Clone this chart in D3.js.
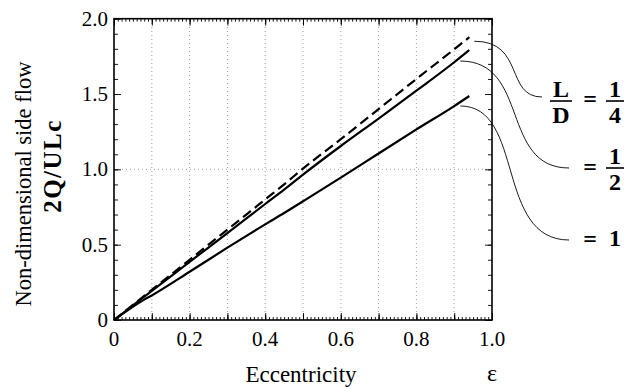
<!DOCTYPE html>
<html>
<head>
<meta charset="utf-8">
<script src="https://cdn.jsdelivr.net/npm/d3@7"></script>
<style>
  html, body { margin: 0; padding: 0; background: #fff; }
  svg { display: block; }
</style>
</head>
<body>
<svg id="chart" width="626" height="387"></svg>
<script>
// Eccentricity samples and side flow for each L/D ratio
const eps = [0, 0.08, 0.1, 0.2, 0.3, 0.4, 0.45, 0.5, 0.6, 0.7, 0.8, 0.9, 0.94];
const flowQuarter = [0, 0.16, 0.20, 0.40, 0.60, 0.80, 0.90, 1.005, 1.20, 1.40, 1.60, 1.797, 1.877];
const flowHalf = [0, 0.155, 0.193, 0.386, 0.577, 0.77, 0.865, 0.965, 1.155, 1.337, 1.522, 1.711, 1.792];
const flowOne = [0, 0.135, 0.163, 0.32, 0.48, 0.635, 0.71, 0.788, 0.945, 1.105, 1.265, 1.42, 1.487];

const xTickLabels = ['0', '0.2', '0.4', '0.6', '0.8', '1.0'];
const yTickLabels = ['0', '0.5', '1.0', '1.5', '2.0'];

const FONT = 'Liberation Serif';

const svg = d3.select('#chart');

const x = d3.scaleLinear().domain([0, 1]).range([114, 492]);
const y = d3.scaleLinear().domain([0, 2]).range([320, 18.7]);

const range = (a, b, s) => d3.range(Math.round(a / s), Math.round(b / s) + 1).map(i => +(i * s).toFixed(4));

// --- Grid (dotted) ---
svg.append('g')
  .selectAll('line')
  .data(range(0.1, 0.9, 0.1))
  .join('line')
  .attr('x1', d => x(d)).attr('x2', d => x(d))
  .attr('y1', y(0)).attr('y2', y(2))
  .attr('stroke', '#888').attr('stroke-width', 0.8)
  .attr('stroke-dasharray', '1,3');

svg.append('line')
  .attr('x1', x(0)).attr('x2', x(1))
  .attr('y1', y(1)).attr('y2', y(1))
  .attr('stroke', '#888').attr('stroke-width', 0.8)
  .attr('stroke-dasharray', '1,3');

// --- Tick marks on all four sides (inside) ---
function tickLayer(axisFn, values, size, transform) {
  const g = svg.append('g')
    .attr('transform', transform)
    .call(axisFn.tickValues(values).tickSize(-size).tickFormat(''));
  g.select('.domain').remove();
  g.selectAll('text').remove();
  g.selectAll('line').attr('stroke', '#000').attr('stroke-width', 0.9);
  return g;
}

const xMinor = range(0, 1, 0.01);
const xMid = range(0.05, 0.95, 0.1);
const xMajor = range(0, 1, 0.1);
[[xMinor, 3], [xMid, 5], [xMajor, 7]].forEach(([v, s]) => {
  tickLayer(d3.axisBottom(x), v, s, `translate(0,${y(0)})`);
  tickLayer(d3.axisTop(x), v, s, `translate(0,${y(2)})`);
});

const yMinor = range(0, 2, 0.1);
const yMajor = range(0, 2, 0.5);
[[yMinor, 4], [yMajor, 7]].forEach(([v, s]) => {
  tickLayer(d3.axisLeft(y), v, s, `translate(${x(0)},0)`);
  tickLayer(d3.axisRight(y), v, s, `translate(${x(1)},0)`);
});

// --- Frame ---
svg.append('rect')
  .attr('x', x(0)).attr('y', y(2))
  .attr('width', x(1) - x(0)).attr('height', y(0) - y(2))
  .attr('fill', 'none').attr('stroke', '#000').attr('stroke-width', 1.6);

// --- Tick labels ---
svg.append('g')
  .selectAll('text')
  .data(xTickLabels)
  .join('text')
  .attr('x', d => x(+d))
  .attr('y', 346)
  .attr('text-anchor', 'middle')
  .attr('font-family', FONT)
  .attr('font-size', 21)
  .text(d => d);

svg.append('g')
  .selectAll('text')
  .data(yTickLabels)
  .join('text')
  .attr('x', 108)
  .attr('y', d => y(+d) + 7)
  .attr('text-anchor', 'end')
  .attr('font-family', FONT)
  .attr('font-size', 21)
  .text(d => d);

// --- Axis titles ---
svg.append('text')
  .attr('x', 301).attr('y', 382)
  .attr('text-anchor', 'middle')
  .attr('font-family', FONT)
  .attr('font-size', 23)
  .text('Eccentricity');

svg.append('text')
  .attr('x', 492).attr('y', 381)
  .attr('text-anchor', 'middle')
  .attr('font-family', FONT)
  .attr('font-size', 24)
  .text('ε');

svg.append('text')
  .attr('transform', 'translate(31,184) rotate(-90)')
  .attr('text-anchor', 'middle')
  .attr('font-family', FONT)
  .attr('font-size', 22.5)
  .text('Non-dimensional side flow');

svg.append('text')
  .attr('transform', 'translate(61,166) rotate(-90)')
  .attr('text-anchor', 'middle')
  .attr('font-family', FONT)
  .attr('font-size', 25)
  .attr('font-weight', 'bold')
  .attr('letter-spacing', 1.5)
  .text('2Q/ULc');

// --- Curves ---
const line = d3.line().x(d => x(d[0])).y(d => y(d[1])).curve(d3.curveMonotoneX);
const seriesList = [
  { values: flowQuarter, dash: '10,5' },
  { values: flowHalf, dash: null },
  { values: flowOne, dash: null },
];

svg.append('g')
  .selectAll('path')
  .data(seriesList)
  .join('path')
  .attr('d', s => line(eps.map((e, i) => [e, s.values[i]])))
  .attr('fill', 'none')
  .attr('stroke', '#000')
  .attr('stroke-width', 2.2)
  .attr('stroke-dasharray', s => s.dash);

// --- Leader lines to the L/D labels ---
const last = eps.length - 1;
const ex = x(eps[last]);
const leaders = [
  { x0: ex + 5, y0: y(flowQuarter[last]) + 4, x1: 542, y1: 97, c0: 525, c1: 505 },
  { x0: ex - 9, y0: y(flowHalf[last]) + 11, x1: 569, y1: 168, c0: 530, c1: 500 },
  { x0: ex - 9, y0: y(flowOne[last]) + 10, x1: 569, y1: 240, c0: 525, c1: 495 },
];
svg.append('g')
  .selectAll('path')
  .data(leaders)
  .join('path')
  .attr('d', d => `M${d.x0},${d.y0} C${d.c0},${d.y0} ${d.c1},${d.y1} ${d.x1},${d.y1}`)
  .attr('fill', 'none')
  .attr('stroke', '#000')
  .attr('stroke-width', 0.9);

// --- Labels ---
const lab = svg.append('g');

function label(cx, cy, txt) {
  lab.append('text')
    .attr('x', cx).attr('y', cy)
    .attr('text-anchor', 'middle')
    .attr('font-family', FONT)
    .attr('font-weight', 'bold')
    .attr('font-size', 24)
    .text(txt);
}

function fraction(cx, top, bottom, barY, w) {
  label(cx, barY - 4.5, top);
  label(cx, barY + 21.5, bottom);
  lab.append('line')
    .attr('x1', cx - w / 2).attr('x2', cx + w / 2)
    .attr('y1', barY).attr('y2', barY)
    .attr('stroke', '#000').attr('stroke-width', 1.6);
}

fraction(561, 'L', 'D', 101, 22);
label(590, 107, '=');
fraction(615, '1', '4', 101, 18);

label(590, 175, '=');
fraction(615, '1', '2', 168, 18);

label(590, 247, '=');
label(615, 246, '1');
</script>
</body>
</html>
